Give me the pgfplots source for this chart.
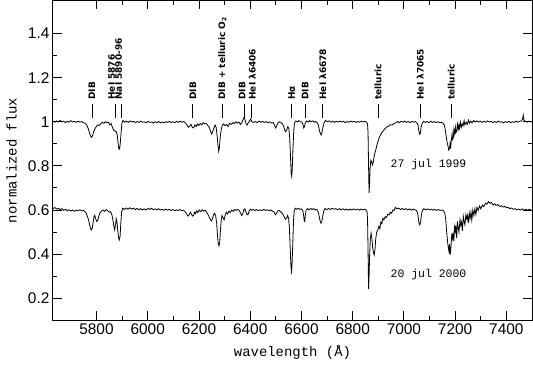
\documentclass[border=0pt]{standalone}
\usepackage{fontspec}
\setmainfont{Liberation Sans}
\setmonofont{Liberation Mono}
\newfontfamily\annfont{DejaVu Sans}
\usepackage{pgfplots}
\pgfplotsset{compat=1.18}

\begin{document}
\begin{tikzpicture}[
    ann/.style={font=\annfont\bfseries\fontsize{9}{10}\selectfont, rotate=90, anchor=west, inner sep=0pt},
    annb/.style={font=\annfont\bfseries\fontsize{9}{10}\selectfont, rotate=90, anchor=base west, inner sep=0pt},
]
\useasboundingbox (-53bp,-46bp) rectangle (480.5bp,320.5bp);
\begin{axis}[
    scale only axis,
    width=479.5bp, height=320bp,
    xmin=5630, xmax=7500,
    ymin=0.1, ymax=1.55,
    xtick={5800,6000,...,7400},
    ytick={0.2,0.4,...,1.4},
    minor x tick num=1,
    minor y tick num=1,
    major tick length=9bp,
    minor tick length=4.5bp,
    tick style={black, line width=0.9bp},
    axis line style={line width=1bp},
    tick label style={font=\fontsize{15.5}{17}\selectfont},
    /pgf/number format/assume math mode=true,
    /pgf/number format/1000 sep={},
    xlabel={wavelength (Å)},
    ylabel={normalized flux},
    label style={font=\ttfamily\fontsize{14}{16}\selectfont},
    xlabel style={at={(axis description cs:0.5,-0.1)}, anchor=center},
    ylabel style={at={(axis description cs:-0.086,0.5)}, anchor=center},
    clip=true,
]

% 27 jul 1999
\addplot[black, line width=0.8bp] coordinates {
(5630,1.003)(5637,0.998)(5644,1.004)(5651,0.999)(5658,1.006)(5665,1.000)(5672,1.003)(5679,0.996)(5686,1.002)(5693,0.998)(5700,1.005)(5707,0.999)(5714,1.002)(5721,0.997)(5728,1.003)(5735,0.998)(5742,1.001)(5749,0.996)(5756,0.993)(5762,0.985)(5768,0.968)(5773,0.948)(5777,0.935)(5781,0.929)(5785,0.938)(5789,0.955)(5794,0.968)(5799,0.978)(5805,0.986)(5811,0.983)(5817,0.992)(5823,0.998)(5829,0.993)(5835,1.000)(5841,0.996)(5847,0.998)(5852,0.986)(5857,0.992)(5862,0.975)(5867,0.962)(5872,0.958)(5877,0.955)(5881,0.940)(5884,0.905)(5887,0.878)(5890,0.876)(5893,0.905)(5896,0.950)(5899,0.992)(5903,1.006)(5910,0.998)(5917,1.003)(5924,0.997)(5931,1.004)(5938,0.999)(5945,1.002)(5952,0.996)(5959,1.001)(5966,0.997)(5973,1.003)(5980,0.998)(5987,1.000)(5994,0.995)(6001,1.002)(6008,0.997)(6015,0.999)(6022,0.994)(6029,1.000)(6036,0.996)(6043,1.001)(6050,0.995)(6057,0.999)(6064,0.995)(6071,1.001)(6078,0.997)(6085,1.002)(6092,0.996)(6099,1.000)(6106,0.996)(6113,1.002)(6120,0.997)(6127,1.003)(6134,0.998)(6141,1.001)(6148,0.993)(6154,0.984)(6159,0.975)(6164,0.980)(6169,0.988)(6174,0.975)(6179,0.972)(6184,0.986)(6189,0.978)(6194,0.990)(6199,0.983)(6205,0.992)(6211,0.986)(6217,0.996)(6223,0.990)(6229,0.992)(6235,0.982)(6240,0.975)(6245,0.958)(6249,0.945)(6253,0.952)(6258,0.970)(6263,0.985)(6267,0.975)(6271,0.935)(6274,0.895)(6277,0.866)(6280,0.885)(6283,0.930)(6287,0.965)(6291,0.985)(6296,0.990)(6302,0.982)(6308,0.988)(6314,0.978)(6320,0.993)(6326,0.988)(6332,0.996)(6338,0.992)(6344,1.000)(6350,0.994)(6356,0.998)(6362,0.988)(6367,0.995)(6372,1.010)(6376,1.020)(6380,1.008)(6384,0.990)(6388,0.985)(6392,0.995)(6397,1.003)(6402,1.013)(6407,1.000)(6413,0.997)(6420,1.001)(6427,0.996)(6434,1.003)(6441,0.998)(6448,1.002)(6455,0.997)(6462,1.001)(6469,0.996)(6476,1.000)(6483,0.994)(6490,0.996)(6495,0.985)(6499,0.972)(6503,0.980)(6508,0.995)(6514,1.000)(6520,0.996)(6526,0.990)(6531,0.978)(6535,0.962)(6539,0.955)(6543,0.965)(6547,0.978)(6551,0.968)(6554,0.930)(6557,0.850)(6560,0.765)(6562,0.752)(6564,0.785)(6567,0.880)(6570,0.960)(6573,0.995)(6578,1.004)(6584,0.999)(6590,1.005)(6596,1.000)(6602,0.998)(6606,0.988)(6609,0.972)(6612,0.978)(6615,0.995)(6620,1.004)(6626,0.998)(6632,1.005)(6638,1.000)(6644,1.004)(6650,0.998)(6656,1.001)(6662,0.995)(6666,0.985)(6670,0.962)(6674,0.945)(6677,0.940)(6680,0.952)(6684,0.975)(6688,0.995)(6694,1.006)(6701,1.000)(6708,1.004)(6715,0.998)(6722,1.003)(6729,0.997)(6736,1.002)(6743,0.998)(6750,1.003)(6757,0.999)(6764,1.002)(6771,0.996)(6778,1.001)(6785,0.998)(6792,1.003)(6799,0.999)(6806,1.002)(6813,0.997)(6820,1.001)(6827,0.998)(6834,1.003)(6841,0.999)(6848,1.002)(6854,0.998)(6858,0.990)(6860,0.950)(6862,0.800)(6864,0.678)(6866,0.720)(6868,0.790)(6871,0.826)(6874,0.818)(6877,0.804)(6880,0.815)(6884,0.845)(6890,0.872)(6897,0.905)(6905,0.932)(6912,0.948)(6919,0.958)(6926,0.968)(6933,0.977)(6940,0.980)(6947,0.987)(6954,0.985)(6961,0.992)(6968,0.995)(6975,1.001)(6982,0.996)(6989,1.002)(6996,0.998)(7003,1.003)(7010,0.997)(7017,1.001)(7024,0.996)(7031,1.002)(7038,0.998)(7045,1.001)(7051,0.994)(7055,0.985)(7058,0.960)(7061,0.943)(7064,0.948)(7067,0.975)(7071,0.993)(7077,1.002)(7084,0.997)(7091,1.001)(7098,0.996)(7105,1.002)(7112,0.997)(7119,1.001)(7126,0.996)(7133,1.000)(7140,0.996)(7147,0.998)(7153,0.993)(7158,0.985)(7162,0.960)(7166,0.925)(7169,0.905)(7172,0.890)(7175,0.872)(7178,0.880)(7180,0.900)(7182,0.878)(7185,0.915)(7188,0.945)(7190,0.920)(7193,0.930)(7195,0.965)(7198,0.945)(7201,0.975)(7203,0.950)(7206,0.958)(7209,0.990)(7212,0.965)(7215,0.985)(7217,0.970)(7221,0.998)(7224,0.975)(7228,0.990)(7231,0.982)(7235,1.005)(7238,0.985)(7243,0.998)(7247,0.988)(7252,1.008)(7256,0.993)(7261,1.003)(7266,0.995)(7272,1.006)(7277,0.999)(7284,1.004)(7291,0.998)(7298,1.003)(7305,0.997)(7312,1.002)(7319,0.998)(7326,1.004)(7333,0.999)(7340,1.002)(7347,0.996)(7354,1.001)(7361,0.997)(7368,1.003)(7375,0.998)(7382,1.000)(7389,0.995)(7396,1.001)(7403,0.997)(7410,1.002)(7417,0.996)(7424,1.000)(7431,0.997)(7438,1.003)(7445,0.998)(7452,1.002)(7459,1.004)(7463,1.012)(7466,1.030)(7469,1.005)(7475,1.002)(7482,0.998)(7489,1.003)(7496,0.999)(7500,1.001)
};

% 20 jul 2000
\addplot[black, line width=0.8bp] coordinates {
(5630,0.606)(5637,0.611)(5644,0.604)(5651,0.608)(5658,0.601)(5665,0.606)(5672,0.598)(5679,0.603)(5686,0.596)(5693,0.601)(5700,0.595)(5707,0.600)(5714,0.594)(5721,0.599)(5728,0.596)(5735,0.601)(5742,0.596)(5749,0.598)(5755,0.592)(5760,0.585)(5765,0.570)(5770,0.550)(5774,0.528)(5778,0.512)(5781,0.509)(5784,0.522)(5787,0.545)(5790,0.568)(5793,0.575)(5797,0.560)(5801,0.548)(5805,0.552)(5809,0.572)(5814,0.588)(5820,0.595)(5826,0.600)(5832,0.594)(5838,0.601)(5844,0.597)(5850,0.590)(5855,0.592)(5860,0.578)(5864,0.555)(5868,0.525)(5871,0.510)(5874,0.530)(5877,0.560)(5880,0.545)(5883,0.505)(5886,0.475)(5889,0.464)(5892,0.480)(5895,0.540)(5898,0.590)(5902,0.608)(5909,0.602)(5916,0.609)(5923,0.603)(5930,0.610)(5937,0.604)(5944,0.608)(5951,0.602)(5958,0.607)(5965,0.601)(5972,0.606)(5979,0.600)(5986,0.605)(5993,0.600)(6000,0.607)(6007,0.602)(6014,0.608)(6021,0.601)(6028,0.605)(6035,0.600)(6042,0.606)(6049,0.600)(6056,0.603)(6063,0.598)(6070,0.604)(6077,0.599)(6084,0.603)(6091,0.597)(6098,0.602)(6105,0.596)(6112,0.601)(6119,0.597)(6126,0.602)(6133,0.596)(6140,0.599)(6146,0.592)(6151,0.585)(6155,0.575)(6159,0.572)(6163,0.582)(6167,0.590)(6171,0.580)(6175,0.572)(6179,0.575)(6183,0.590)(6187,0.583)(6191,0.596)(6196,0.588)(6201,0.600)(6207,0.592)(6213,0.601)(6219,0.595)(6225,0.598)(6231,0.588)(6236,0.578)(6241,0.565)(6245,0.555)(6249,0.550)(6253,0.562)(6257,0.578)(6261,0.585)(6265,0.575)(6269,0.540)(6272,0.490)(6275,0.450)(6278,0.437)(6281,0.455)(6284,0.510)(6287,0.555)(6290,0.575)(6294,0.565)(6298,0.555)(6302,0.575)(6307,0.590)(6312,0.582)(6317,0.595)(6322,0.588)(6328,0.600)(6334,0.594)(6340,0.602)(6346,0.598)(6352,0.603)(6358,0.596)(6363,0.585)(6367,0.575)(6371,0.582)(6375,0.600)(6379,0.605)(6383,0.592)(6387,0.580)(6391,0.578)(6395,0.592)(6400,0.604)(6405,0.598)(6411,0.603)(6418,0.597)(6425,0.602)(6432,0.596)(6439,0.601)(6446,0.597)(6453,0.603)(6460,0.598)(6467,0.601)(6474,0.596)(6481,0.600)(6488,0.594)(6494,0.590)(6498,0.578)(6502,0.582)(6507,0.595)(6513,0.598)(6519,0.592)(6525,0.585)(6530,0.575)(6534,0.565)(6538,0.558)(6542,0.562)(6546,0.575)(6550,0.560)(6553,0.520)(6556,0.430)(6559,0.345)(6561,0.320)(6563,0.340)(6566,0.440)(6569,0.550)(6572,0.598)(6576,0.608)(6582,0.603)(6588,0.608)(6594,0.602)(6600,0.605)(6605,0.598)(6608,0.580)(6611,0.550)(6613,0.547)(6615,0.575)(6618,0.598)(6624,0.606)(6630,0.600)(6636,0.607)(6642,0.602)(6648,0.606)(6654,0.600)(6660,0.603)(6665,0.592)(6669,0.572)(6673,0.550)(6676,0.540)(6679,0.545)(6683,0.570)(6687,0.595)(6692,0.607)(6699,0.601)(6706,0.607)(6713,0.602)(6720,0.608)(6727,0.603)(6734,0.606)(6741,0.601)(6748,0.606)(6755,0.601)(6762,0.605)(6769,0.600)(6776,0.604)(6783,0.599)(6790,0.604)(6797,0.600)(6804,0.605)(6811,0.600)(6818,0.604)(6825,0.599)(6832,0.604)(6839,0.600)(6846,0.603)(6852,0.600)(6856,0.592)(6858,0.560)(6860,0.420)(6862,0.241)(6864,0.300)(6866,0.390)(6869,0.470)(6872,0.494)(6875,0.470)(6878,0.430)(6881,0.408)(6884,0.396)(6887,0.420)(6890,0.470)(6894,0.500)(6898,0.509)(6902,0.525)(6906,0.515)(6910,0.545)(6914,0.538)(6918,0.562)(6922,0.555)(6927,0.570)(6932,0.565)(6937,0.580)(6942,0.578)(6947,0.590)(6952,0.585)(6957,0.600)(6962,0.598)(6967,0.612)(6973,0.605)(6980,0.608)(6987,0.602)(6994,0.607)(7001,0.601)(7008,0.606)(7015,0.600)(7022,0.605)(7029,0.599)(7036,0.604)(7043,0.600)(7049,0.598)(7053,0.588)(7056,0.565)(7059,0.540)(7062,0.532)(7065,0.545)(7068,0.575)(7072,0.598)(7078,0.606)(7085,0.600)(7092,0.605)(7099,0.600)(7106,0.604)(7113,0.599)(7120,0.603)(7127,0.598)(7134,0.602)(7141,0.598)(7148,0.600)(7154,0.596)(7159,0.588)(7163,0.560)(7167,0.500)(7170,0.462)(7173,0.430)(7176,0.411)(7178,0.445)(7181,0.398)(7184,0.440)(7187,0.494)(7189,0.470)(7192,0.490)(7195,0.458)(7198,0.525)(7201,0.505)(7203,0.530)(7206,0.472)(7209,0.548)(7212,0.520)(7215,0.500)(7219,0.556)(7222,0.530)(7225,0.545)(7228,0.505)(7232,0.570)(7235,0.548)(7238,0.532)(7242,0.578)(7245,0.560)(7248,0.575)(7251,0.540)(7255,0.586)(7258,0.560)(7262,0.590)(7265,0.555)(7269,0.600)(7273,0.575)(7277,0.605)(7281,0.580)(7285,0.612)(7290,0.598)(7295,0.618)(7300,0.605)(7306,0.622)(7312,0.615)(7318,0.630)(7324,0.626)(7330,0.638)(7336,0.630)(7342,0.634)(7348,0.622)(7354,0.628)(7360,0.621)(7367,0.624)(7375,0.615)(7381,0.619)(7387,0.613)(7394,0.616)(7400,0.610)(7407,0.612)(7413,0.606)(7420,0.609)(7427,0.603)(7434,0.606)(7441,0.600)(7448,0.604)(7455,0.600)(7462,0.605)(7469,0.598)(7476,0.603)(7483,0.599)(7490,0.603)(7497,0.598)(7500,0.600)
};

% line identifications
\foreach \w in {5782,5874,5896,6176,6291,6379,6406,6562,6614,6683,6899,7064,7185} {
    \edef\temp{\noexpand\draw[line width=0.7bp] (axis cs:\w,1.016) -- (axis cs:\w,1.08);}
    \temp
}
\node[ann]  at (axis cs:5782,1.10) {DIB};
\node[annb] at (axis cs:5872,1.10) {HeI 5876};
\node[annb] at (axis cs:5899,1.10) {NaI 5890-96};
\node[ann]  at (axis cs:6176,1.10) {DIB};
\node[ann]  at (axis cs:6291,1.10) {DIB + telluric O\textsubscript{2}};
\node[annb] at (axis cs:6381,1.10) {DIB};
\node[ann]  at (axis cs:6408,1.10) {HeI λ6406};
\node[ann]  at (axis cs:6562,1.10) {Hα};
\node[ann]  at (axis cs:6614,1.10) {DIB};
\node[ann]  at (axis cs:6683,1.10) {HeI λ6678};
\node[ann]  at (axis cs:6899,1.10) {telluric};
\node[ann]  at (axis cs:7064,1.10) {HeI λ7065};
\node[ann]  at (axis cs:7185,1.10) {telluric};

\node[font=\ttfamily\fontsize{11.5}{13}\selectfont] at (axis cs:7096,0.805) {27 jul 1999};
\node[font=\ttfamily\fontsize{11.5}{13}\selectfont] at (axis cs:7096,0.305) {20 jul 2000};
\end{axis}
\end{tikzpicture}
\end{document}
